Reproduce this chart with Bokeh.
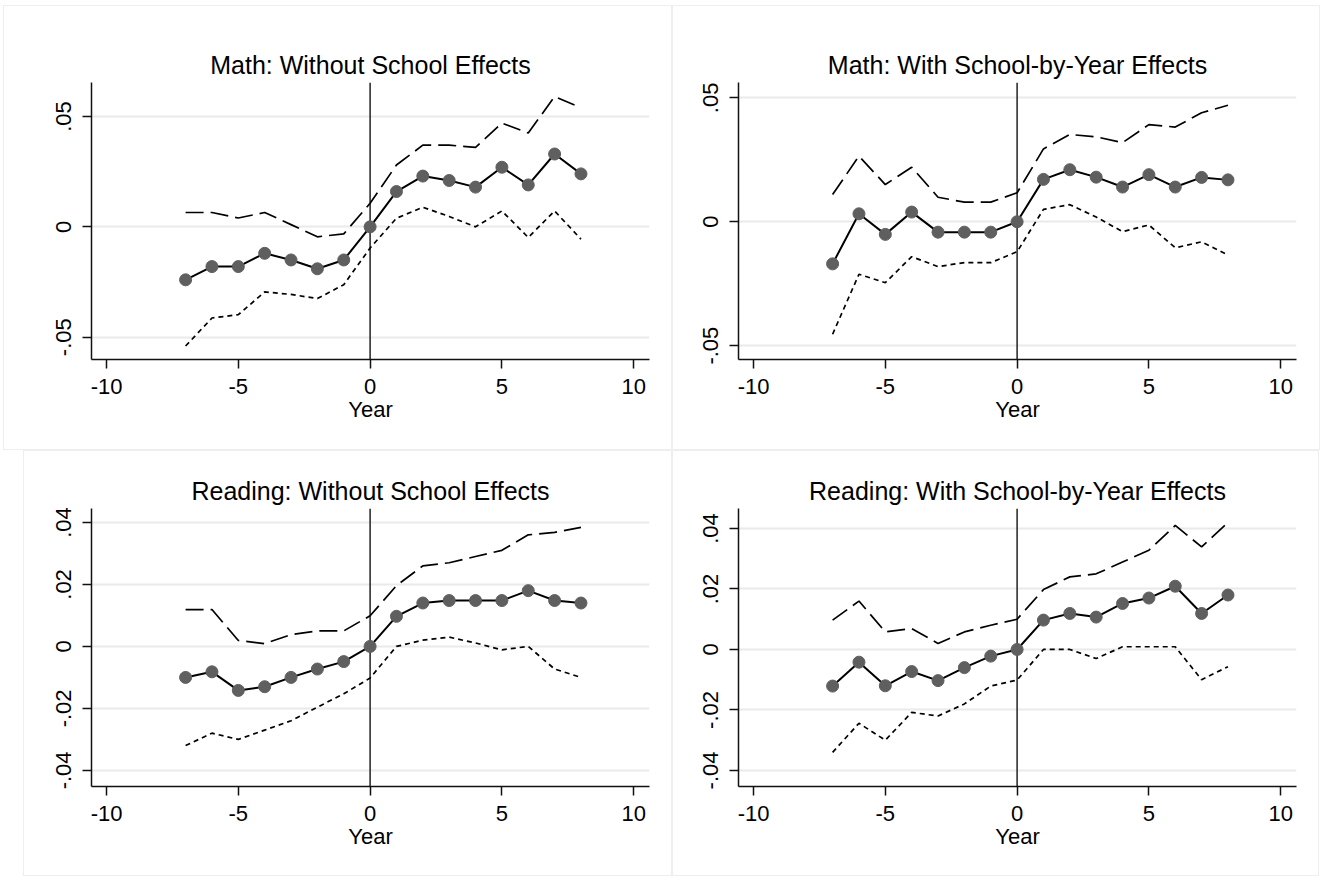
from bokeh.plotting import figure
from bokeh.layouts import row, column
from bokeh.models import Range1d, FixedTicker, CustomJSTickFormatter, Span
from bokeh.embed import file_html
from bokeh.resources import INLINE

years = [-7, -6, -5, -4, -3, -2, -1, 0, 1, 2, 3, 4, 5, 6, 7, 8]
x_ticks = [-10, -5, 0, 5, 10]

titles = [
    "Math: Without School Effects",
    "Math: With School-by-Year Effects",
    "Reading: Without School Effects",
    "Reading: With School-by-Year Effects",
]

math_no_est = [-0.024, -0.018, -0.018, -0.012, -0.015, -0.019, -0.015, 0.0,
               0.016, 0.023, 0.021, 0.018, 0.027, 0.019, 0.033, 0.024]
math_no_hi = [0.0065, 0.0065, 0.004, 0.0065, 0.001, -0.0045, -0.0032, 0.0107,
              0.028, 0.037, 0.037, 0.036, 0.047, 0.0425, 0.059, 0.054]
math_no_lo = [-0.054, -0.0413, -0.0398, -0.0295, -0.0306, -0.0325, -0.0262, -0.0096,
              0.0039, 0.0089, 0.0047, 0.0, 0.0072, -0.0048, 0.0072, -0.0056]

math_sy_est = [-0.017, 0.0032, -0.0051, 0.0039, -0.0042, -0.0042, -0.0042, 0.0,
               0.0171, 0.021, 0.018, 0.014, 0.019, 0.014, 0.0179, 0.0169]
math_sy_hi = [0.011, 0.0265, 0.015, 0.022, 0.0099, 0.0079, 0.0079, 0.0117,
              0.0294, 0.0352, 0.0343, 0.0319, 0.0392, 0.0382, 0.044, 0.047]
math_sy_lo = [-0.0454, -0.0212, -0.0246, -0.0141, -0.0181, -0.0165, -0.0165, -0.0121,
              0.005, 0.0069, 0.0019, -0.004, -0.0013, -0.0105, -0.0081, -0.0134]

read_no_est = [-0.010, -0.0082, -0.0142, -0.013, -0.010, -0.0073, -0.0049, 0.0,
               0.0097, 0.014, 0.0148, 0.0148, 0.0148, 0.018, 0.0148, 0.014]
read_no_hi = [0.0119, 0.0119, 0.0019, 0.0009, 0.0038, 0.005, 0.005, 0.0099,
              0.0196, 0.026, 0.027, 0.029, 0.031, 0.036, 0.0368, 0.0384]
read_no_lo = [-0.032, -0.028, -0.030, -0.027, -0.024, -0.0196, -0.0153, -0.0102,
              0.0, 0.002, 0.003, 0.0011, -0.0011, 0.0, -0.0073, -0.010]

read_sy_est = [-0.0121, -0.0042, -0.012, -0.0073, -0.0103, -0.006, -0.0022, 0.0,
               0.0097, 0.0119, 0.0107, 0.0152, 0.017, 0.0209, 0.0119, 0.018]
read_sy_hi = [0.0097, 0.016, 0.0058, 0.0069, 0.002, 0.0058, 0.008, 0.010,
              0.0198, 0.024, 0.025, 0.0289, 0.0328, 0.041, 0.0339, 0.042]
read_sy_lo = [-0.034, -0.0244, -0.030, -0.0208, -0.022, -0.018, -0.0121, -0.0101,
              0.0, 0.0, -0.003, 0.0009, 0.0009, 0.0009, -0.010, -0.0057]

math_yticks = [-0.05, 0.0, 0.05]
read_yticks = [-0.04, -0.02, 0.0, 0.02, 0.04]

FONT = "Liberation Sans"

ytick_fmt_code = """
if (Math.abs(tick) < 1e-12) { return "0"; }
return tick.toFixed(2).replace("0.", ".");
"""
xtick_fmt_code = """
return tick.toFixed(0);
"""


def make_panel(title, est, hi, lo, ylim, yticks, width, height, borders, margin):
    bl, bt, br, bb = borders
    p = figure(
        width=width, height=height,
        x_range=Range1d(-10.57, 10.6), y_range=Range1d(*ylim),
        output_backend="svg", toolbar_location=None,
        min_border_left=bl, min_border_top=bt, min_border_right=br, min_border_bottom=bb,
        margin=margin,
        title=title,
    )
    p.border_fill_color = None
    p.background_fill_color = "white"
    p.outline_line_color = None
    p.styles = {"outline": "1.5px solid #eeeeee", "outline-offset": "-1.5px"}

    p.title.align = "center"
    p.title.text_font = FONT
    p.title.text_font_size = "25px"
    p.title.text_font_style = "normal"
    p.title.text_color = "#000000"
    p.title.standoff = 7

    p.xgrid.grid_line_color = None
    p.ygrid.grid_line_color = "#eaeaea"
    p.ygrid.grid_line_width = 2
    p.ygrid.ticker = FixedTicker(ticks=yticks)

    p.xaxis.ticker = FixedTicker(ticks=x_ticks)
    p.xaxis.formatter = CustomJSTickFormatter(code=xtick_fmt_code)
    p.yaxis.ticker = FixedTicker(ticks=yticks)
    p.yaxis.formatter = CustomJSTickFormatter(code=ytick_fmt_code)
    p.yaxis.major_label_orientation = "vertical"
    p.xaxis.axis_label = "Year"

    for ax in (p.xaxis, p.yaxis):
        ax.axis_line_color = "#111111"
        ax.axis_line_width = 1.5
        ax.major_tick_line_color = "#111111"
        ax.major_tick_line_width = 1.5
        ax.major_tick_in = 0
        ax.major_tick_out = 9
        ax.minor_tick_line_color = None
        ax.major_label_text_font = FONT
        ax.major_label_text_font_size = "22px"
        ax.major_label_text_color = "#000000"
        ax.axis_label_text_font = FONT
        ax.axis_label_text_font_size = "22px"
        ax.axis_label_text_font_style = "normal"
        ax.axis_label_text_color = "#000000"
    p.xaxis.major_label_standoff = 10
    p.xaxis.axis_label_standoff = 0
    p.yaxis.major_label_standoff = 11

    vline = Span(location=0, dimension="height", line_color="#222222",
                 line_width=1.5, level="underlay")
    p.add_layout(vline)

    p.line(years, hi, line_color="#000000", line_width=1.7, line_dash="18 7")
    p.line(years, lo, line_color="#000000", line_width=1.7, line_dash="5 4")
    p.line(years, est, line_color="#000000", line_width=2)
    p.scatter(years, est, size=12, fill_color="#5f5f5f", line_color="#5f5f5f",
              line_width=1)
    return p


p1 = make_panel(titles[0], math_no_est, math_no_hi, math_no_lo,
                (-0.0601, 0.0654), math_yticks, 669, 445, (88, 77, 23, 91), (5, 0, 0, 3))
p2 = make_panel(titles[1], math_sy_est, math_sy_hi, math_sy_lo,
                (-0.0556, 0.0562), math_yticks, 648, 445, (66, 77, 24, 91), (5, 0, 0, 0))
p3 = make_panel(titles[2], read_no_est, read_no_hi, read_no_lo,
                (-0.0452, 0.0445), read_yticks, 649, 426, (68, 58, 23, 90), (0, 0, 0, 23))
p4 = make_panel(titles[3], read_sy_est, read_sy_hi, read_sy_lo,
                (-0.0453, 0.0466), read_yticks, 647, 426, (66, 58, 23, 90), (0, 0, 0, 0))

layout = column(row(p1, p2), row(p3, p4))

with open("out.html", "w") as f:
    f.write(file_html(layout, INLINE))
